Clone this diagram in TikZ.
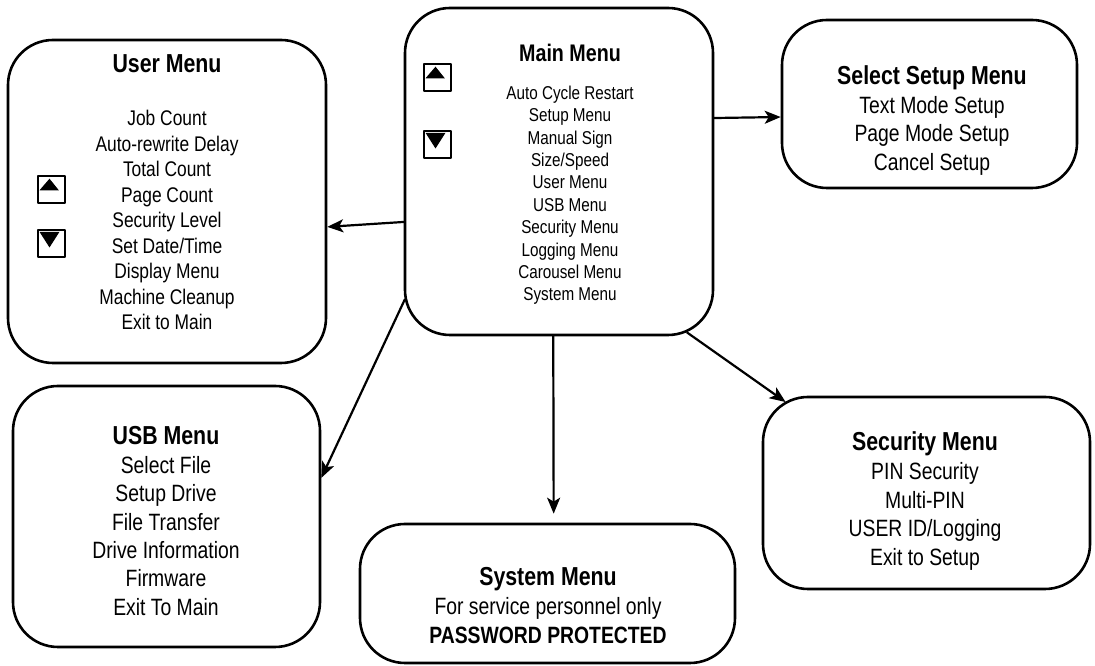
\documentclass[tikz,border=0pt]{standalone}
\usepackage{fontspec}
\setmainfont{Liberation Sans}[FakeStretch=0.82]
\usetikzlibrary{arrows.meta}

\tikzset{
  menubox/.style={draw, line width=2.6pt, rounded corners=45pt, inner sep=0pt},
  btn/.style={draw, line width=1.8pt, minimum size=27pt, inner sep=0pt},
  ttl/.style={font=\bfseries\fontsize{26}{28.4}\selectfont, anchor=base, inner sep=0pt},
  itm/.style={font=\fontsize{23.6}{28.4}\selectfont, align=center, anchor=base, inner sep=0pt},
  arr/.style={->, line width=2.2pt}
}

\begin{document}
\begin{tikzpicture}[line cap=round,line join=round,>={Stealth[length=16pt,width=13pt,inset=4pt]},x=1pt,y=1pt]

\useasboundingbox (0,0) rectangle (1095,666);

% the six menus
\node[menubox, minimum width=308pt, minimum height=327pt] (main) at (559,494.5) {};
\node[menubox, minimum width=318pt, minimum height=323pt] (user) at (167,464.5) {};
\node[menubox, minimum width=295pt, minimum height=168pt] (select) at (929.5,562) {};
\node[menubox, minimum width=307pt, minimum height=261pt] (usb) at (166.5,149.5) {};
\node[menubox, minimum width=327pt, minimum height=192pt] (security) at (926.5,173) {};
\node[menubox, minimum width=375pt, minimum height=139pt] (system) at (547.5,72.5) {};

% main menu (item lists sit on the baseline of their last line)
\node[ttl, font=\bfseries\fontsize{24}{28}\selectfont] (mainttl) at (570,604.3) {Main Menu};
\node[itm, font=\fontsize{18.6}{22.4}\selectfont] (mainitm) at (570,365.1) {Auto Cycle Restart\\Setup Menu\\Manual Sign\\Size/Speed\\User Menu\\USB Menu\\Security Menu\\Logging Menu\\Carousel Menu\\System Menu};
\node[btn] (mup) at (437.5,588.5) {};
\node[btn] (mdown) at (437.5,521.5) {};
\fill[shift={(mup.center)}] (-12,-0.8) -- (7.3,-0.8) -- (-2,10.8) -- cycle;
\fill[shift={(mdown.center)}] (-12,11.7) -- (8,11.7) -- (-2,-4) -- cycle;

% user menu
\node[ttl] (userttl) at (167,593) {User Menu};
\node[itm, font=\fontsize{21.2}{25.5}\selectfont] (useritm) at (167,336.4) {Job Count\\Auto-rewrite Delay\\Total Count\\Page Count\\Security Level\\Set Date/Time\\Display Menu\\Machine Cleanup\\Exit to Main};
\node[btn] (uup) at (51.5,476.5) {};
\node[btn] (udown) at (51.5,422.5) {};
\fill[shift={(uup.center)}] (-12,-0.8) -- (7.3,-0.8) -- (-2,10.8) -- cycle;
\fill[shift={(udown.center)}] (-12,11.7) -- (8,11.7) -- (-2,-4) -- cycle;

% select setup menu
\node[ttl] (selectttl) at (932,581.5) {Select Setup Menu};
\node[itm] (selectitm) at (932,495.7) {Text Mode Setup\\Page Mode Setup\\Cancel Setup};

% security menu
\node[ttl] (securityttl) at (925,215.3) {Security Menu};
\node[itm] (securityitm) at (925,100.8) {PIN Security\\Multi-PIN\\USER ID/Logging\\Exit to Setup};

% usb menu
\node[ttl] (usbttl) at (166,221) {USB Menu};
\node[itm] (usbitm) at (166,50.7) {Select File\\Setup Drive\\File Transfer\\Drive Information\\Firmware\\Exit To Main};

% system menu
\node[ttl] (systemttl) at (548,80) {System Menu};
\node[itm] (systemitm) at (548,22.6) {For service personnel only\\\textbf{PASSWORD PROTECTED}};

% arrows out of the main menu
\draw[arr] (main.19.5) -- (select.185.8);
\draw[arr] (main.198.8) -- (user.351.9);
\draw[arr, shorten <=-2.6pt] (main.220.9) -- (usb.14.6);
\draw[arr, shorten >=9pt] (main.268) -- (system.85.5);
\draw[arr, shorten <=-6.5pt, shorten >=-11pt] (main.309.6) -- (security.147);

\end{tikzpicture}
\end{document}
